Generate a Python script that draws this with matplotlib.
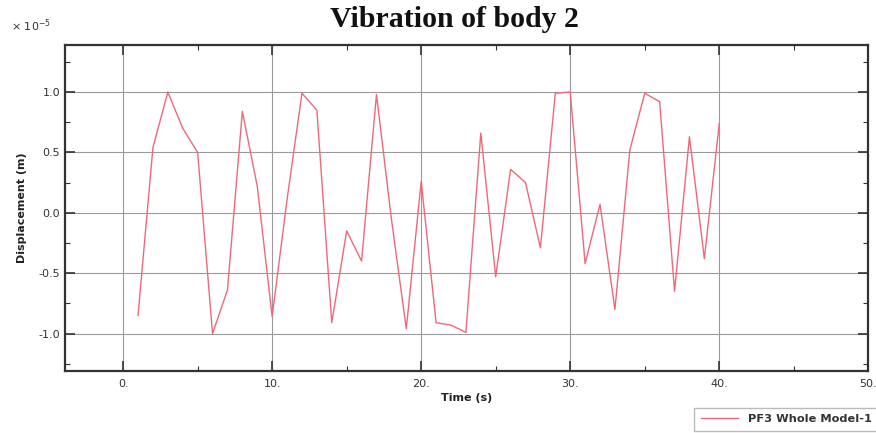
import matplotlib
matplotlib.use("Agg")
import matplotlib.pyplot as plt
from matplotlib.ticker import MultipleLocator, FuncFormatter
from matplotlib.lines import Line2D

# Data (displacement in units of 1e-5 m)
time_s = list(range(1, 41))
displacement = [-0.85, 0.54, 1.00, 0.70, 0.50, -1.00, -0.64, 0.84, 0.22, -0.86,
                0.11, 0.99, 0.85, -0.91, -0.15, -0.40, 0.98, -0.05, -0.96, 0.26,
                -0.91, -0.93, -0.99, 0.66, -0.53, 0.36, 0.25, -0.29, 0.99, 1.00,
                -0.42, 0.07, -0.80, 0.52, 0.99, 0.92, -0.65, 0.63, -0.38, 0.74]
x_ticks = [0, 10, 20, 30, 40, 50]
y_ticks = [-1.0, -0.5, 0.0, 0.5, 1.0]
series_name = "PF3 Whole Model-1"

line_color = "#f06878"

fig = plt.figure(figsize=(8.76, 4.33), dpi=100)
ax = fig.add_axes([0.0742, 0.1432, 0.9170, 0.7530])

ax.set_xlim(-3.9, 50)
ax.set_ylim(-1.31, 1.39)

ax.plot(time_s, displacement, color=line_color, lw=1.0)

ax.set_xticks(x_ticks)
ax.set_yticks(y_ticks)
ax.xaxis.set_minor_locator(MultipleLocator(5))
ax.yaxis.set_minor_locator(MultipleLocator(0.25))
ax.xaxis.set_major_formatter(FuncFormatter(lambda v, p: f"{int(round(v))}."))
ax.yaxis.set_major_formatter(FuncFormatter(lambda v, p: f"{v:.1f}"))

ax.grid(True, which="major", color="#9a9a9a", lw=0.8)
ax.tick_params(which="both", direction="in", top=True, right=True,
               colors="#333333", labelsize=8)
ax.tick_params(which="major", length=7, width=1.2)
ax.tick_params(which="minor", length=3.5, width=0.8)
ax.tick_params(axis="x", which="major", pad=6)
ax.tick_params(axis="y", which="both", labelright=False)
for s in ax.spines.values():
    s.set_linewidth(1.6)
    s.set_color("#333333")

ax.set_xlabel("Time (s)", fontsize=8, fontweight="bold", color="#222222", labelpad=3)
ax.set_ylabel("Displacement (m)", fontsize=8, fontweight="bold", color="#222222", labelpad=8)

fig.text(0.519, 0.955, "Vibration of body 2", ha="center", va="center",
         family="Liberation Serif", fontweight="bold", fontsize=21.5, color="#111111")
fig.text(0.012, 0.94, r"$\times\ 10^{-5}$", ha="left", va="center",
         fontsize=8, color="#333333", family="serif")

handle = Line2D([], [], color=line_color, lw=1.0)
leg = fig.legend([handle], [series_name], loc="lower left",
                 bbox_to_anchor=(0.786, -0.009), fontsize=8.2, frameon=True,
                 fancybox=False, edgecolor="#aaaaaa", handlelength=3.2,
                 handletextpad=0.9, borderpad=0.6)
for t in leg.get_texts():
    t.set_fontweight("bold")
    t.set_color("#333333")

fig.savefig("out.png", dpi=100)
